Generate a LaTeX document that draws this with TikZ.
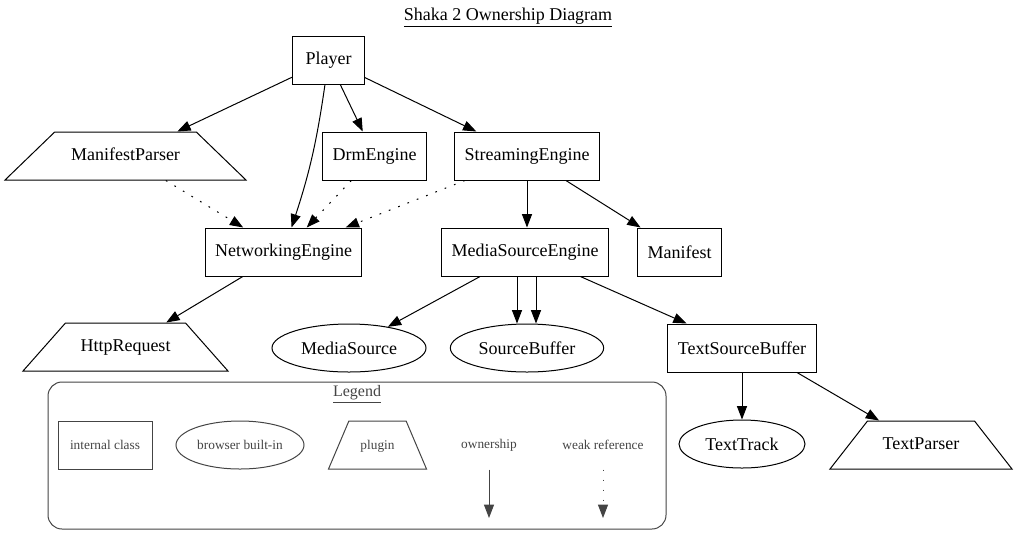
\documentclass[tikz,border=0pt]{standalone}
\usepackage{fontspec}
\setmainfont{Liberation Serif}
\usetikzlibrary{shapes.geometric,arrows.meta}

\tikzset{every picture/.style={line width=0.75pt}}
\tikzset{
  classbox/.style={draw, rectangle, minimum width=54pt, minimum height=36pt, inner xsep=7.5pt, inner ysep=0pt},
  builtin/.style={draw, ellipse, minimum height=36pt, inner sep=0pt},
  plugin/.style={draw, trapezium, trapezium stretches body, minimum height=36pt, inner xsep=0pt, inner ysep=11.75pt, text height=9.5pt, text depth=3pt},
  own/.style={-{Triangle[length=10pt,width=7.5pt]}},
  weak/.style={own, dash pattern=on 1.3pt off 6.2pt},
  legendline/.style={draw={rgb, 255:red, 68; green, 68; blue, 68}},
  legendtext/.style={text={rgb, 255:red, 68; green, 68; blue, 68}, font=\fontsize{10pt}{12pt}\selectfont},
}

\begin{document}
\begin{tikzpicture}[x=0.75pt,y=0.75pt,yscale=-1,xscale=1,font=\fontsize{13.5pt}{16pt}\selectfont]
\useasboundingbox (0,0) rectangle (1017,547);

%Title
\node (title) at (508,18) {\underline{Shaka 2 Ownership Diagram}};

%Shape: Rectangle
\node [classbox] (player) at (328.5,60) {Player};
\node [classbox] (drm) at (374.5,156) {DrmEngine};
\node [classbox] (stream) at (527,156) {StreamingEngine};
\node [classbox] (net) at (283.5,252) {NetworkingEngine};
\node [classbox] (mse) at (525,252) {MediaSourceEngine};
\node [classbox] (manifest) at (679.5,252) {Manifest};
\node [classbox] (tsb) at (742,348) {TextSourceBuffer};

%Shape: Trapezoid
\node [plugin, trapezium angle=44, minimum width=180.75pt] (mparser) at (125.5,156) {ManifestParser};
\node [plugin, trapezium angle=48.5, minimum width=153.75pt] (http) at (125.5,347) {HttpRequest};
\node [plugin, trapezium angle=52, minimum width=136.5pt] (tparser) at (921,445) {TextParser};

%Shape: Ellipse
\node [builtin, minimum width=115.5pt] (msrc) at (349,348) {MediaSource};
\node [builtin, minimum width=115pt] (sbuf) at (527,348) {SourceBuffer};
\node [builtin, minimum width=94.5pt] (ttrack) at (742,444) {TextTrack};

%Straight Lines
\draw [own] (player) -- (mparser);
\draw [own] (player) to[bend right=5] (net);
\draw [own] (player) -- (drm);
\draw [own] (player) -- (stream);
\draw [weak] (mparser) -- (net);
\draw [weak] (drm) -- (net);
\draw [weak] (stream) -- (net);
\draw [own] (stream.south) -- (stream.south |- mse.north);
\draw [own] (stream) -- (manifest);
\draw [own] (net) -- (http);
\draw [own] (mse) -- (msrc);
\draw [own] ([xshift=-6pt]mse.south) -- ([xshift=-7.5pt]sbuf.north);
\draw [own] ([xshift=8.25pt]mse.south) -- ([xshift=6.75pt]sbuf.north);
\draw [own] (mse) -- (tsb);
\draw [own] (tsb) -- (ttrack);
\draw [own] ([xshift=41.25pt]tsb.south) -- (tparser);

%Legend
\draw [legendline, rounded corners=10.5pt] (48,382) rectangle (666,529);
\node [legendtext, font=\fontsize{12pt}{14pt}\selectfont] (legend) at (357,394) {\underline{Legend}};
\node [classbox, legendline, legendtext, minimum width=70.5pt] (legclass) at (105,445) {internal class};
\node [builtin, legendline, legendtext, minimum width=96pt] (legbuiltin) at (240,445) {browser built-in};
\node [plugin, legendline, legendtext, trapezium angle=67, minimum width=73.5pt] (legplugin) at (377.5,445) {plugin};
\node [legendtext, minimum height=36pt] (legown) at (489,445) {ownership};
\node [legendtext, minimum height=36pt] (legweak) at (603,445) {weak reference};
\coordinate (ownend) at (489,518);
\coordinate (weakend) at (603,518);
\draw [own, legendline] (legown.south) -- (ownend);
\draw [weak, legendline] (legweak.south) -- (weakend);

\end{tikzpicture}
\end{document}
